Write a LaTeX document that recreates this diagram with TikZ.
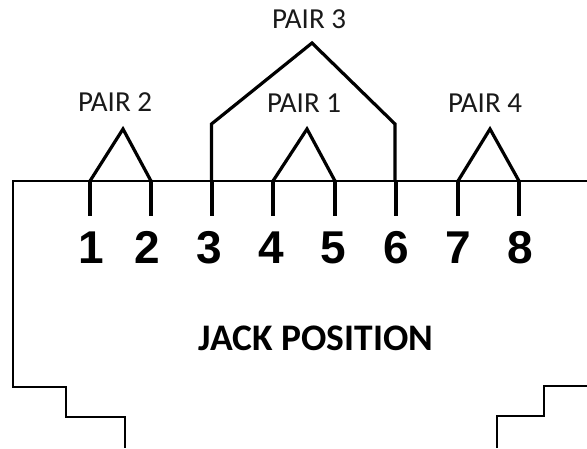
\documentclass[tikz,border=0pt]{standalone}
\usepackage{fontspec}
\setmainfont{Carlito}
\newfontfamily\digitfont{Liberation Sans}
\tikzset{
  body/.style={line width=2pt,line cap=butt,line join=miter},
  wire/.style={line width=3.2pt,line cap=butt,line join=miter},
  pairlabel/.style={font=\fontsize{29}{29}\selectfont,text=black!90,inner sep=0pt,anchor=center},
  pinnum/.style={font=\digitfont\bfseries\fontsize{46}{46}\selectfont,inner sep=0pt,anchor=base},
  jacklabel/.style={font=\bfseries\fontsize{37.5}{37.5}\selectfont,inner sep=0pt,anchor=center}
}
\begin{document}
\begin{tikzpicture}[x=1pt,y=-1pt]
\useasboundingbox (0,0) rectangle (587,448);
% pin tops on the jack edge and pin ends
\foreach \n/\x in {1/90,2/151,3/212,4/273,5/335,6/396,7/458,8/519}{
  \coordinate (t\n) at (\x,181);
  \coordinate (b\n) at (\x,216);
}
% jack outline
\coordinate (tl) at (12.5,181);
\coordinate (tr) at (587,181);
\draw[body] (tr) -- (tl) -- (12.5,387) -- (66,387) -- (66,417) -- (125,417) -- (125,448);
\draw[body] (587,386) -- (544,386) -- (544,416) -- (497,416) -- (497,448);
% pins
\foreach \n in {1,...,8}{ \draw[wire] (t\n) -- (b\n); }
% pair apexes
\coordinate (p2) at (123,129);
\coordinate (p1) at (307,129);
\coordinate (p4) at (490,129);
\coordinate (p3) at (312,43);
\coordinate (s3) at (211.5,124);
\coordinate (s6) at (395,124);
\draw[wire] (t1) -- (p2) -- (t2);
\draw[wire] (t4) -- (p1) -- (t5);
\draw[wire] (t7) -- (p4) -- (t8);
\draw[wire] (211.5,181) -- (s3) -- (p3) -- (s6) -- (395,181);
% labels
\node[pairlabel] (l2) at (115,102) {PAIR 2};
\node[pairlabel] (l1) at (304,103) {PAIR 1};
\node[pairlabel] (l4) at (485,103) {PAIR 4};
\node[pairlabel] (l3) at (309,19) {PAIR 3};
\foreach \n/\x in {1/91,2/147,3/209,4/271,5/333,6/396,7/458,8/520}{
  \node[pinnum] (n\n) at (\x,263) {\n};
}
\node[jacklabel] (jack) at (316,338) {JACK POSITION};
\end{tikzpicture}
\end{document}
